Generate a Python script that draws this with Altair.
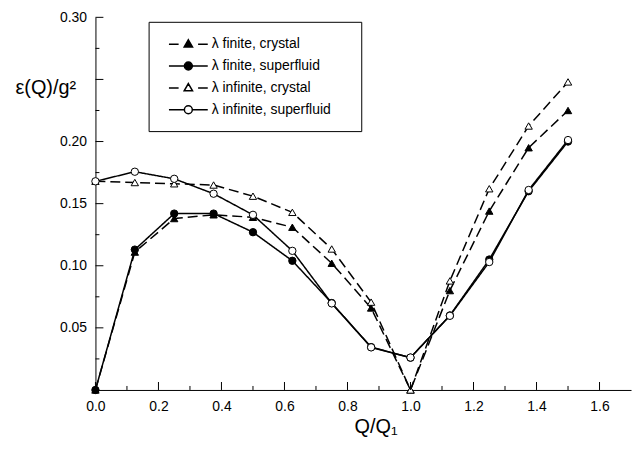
import altair as alt
import pandas as pd

# ---- data ----
Q = [0.0, 0.125, 0.25, 0.375, 0.5, 0.625, 0.75, 0.875, 1.0, 1.125, 1.25, 1.375, 1.5]
finite_crystal = [0.0, 0.111, 0.138, 0.141, 0.139, 0.131, 0.102, 0.066, 0.0, 0.080, 0.144, 0.195, 0.225]
finite_superfluid = [0.0, 0.113, 0.142, 0.142, 0.127, 0.104, 0.070, 0.0345, 0.026, 0.060, 0.105, 0.160, 0.200]
infinite_crystal = [0.168, 0.167, 0.166, 0.165, 0.156, 0.143, 0.1135, 0.0707, 0.0, 0.0878, 0.162, 0.2125, 0.248]
infinite_superfluid = [0.168, 0.1757, 0.170, 0.158, 0.141, 0.112, 0.0697, 0.0343, 0.0261, 0.0597, 0.103, 0.161, 0.2012]

series_names = ["λ finite, crystal", "λ finite, superfluid",
                "λ infinite, crystal", "λ infinite, superfluid"]

x_labels = [0.0, 0.2, 0.4, 0.6, 0.8, 1.0, 1.2, 1.4, 1.6]
x_minor = [0.1, 0.3, 0.5, 0.7, 0.9, 1.1, 1.3, 1.5]
y_labels = [0.05, 0.10, 0.15, 0.20, 0.30]
y_major = [0.05, 0.10, 0.15, 0.20, 0.25, 0.30]
y_minor = [0.025, 0.075, 0.125, 0.175, 0.225, 0.275]

rows = []
for name, vals in zip(series_names, [finite_crystal, finite_superfluid,
                                     infinite_crystal, infinite_superfluid]):
    for q, v in zip(Q, vals):
        rows.append({"Q": q, "eps": v, "series": name})
df = pd.DataFrame(rows)

W, H = 539, 375
FONT = "Liberation Sans"

x_scale = alt.Scale(domain=[0, 1.7], nice=False, zero=False)
y_scale = alt.Scale(domain=[0, 0.30], nice=False, zero=False)

common = dict(ticks=False, tickSize=0, grid=False, labelFlush=False, labelOverlap=False,
              labelFont=FONT, labelFontSize=14, labelColor="black",
              domainColor="black", domainWidth=1,
              titleFont=FONT, titleColor="black", titleFontSize=20, titleFontWeight="normal")

x_axis = alt.Axis(values=x_labels, format=".1f", labelPadding=10,
                  title="Q/Q₁", titleX=282, titleY=43, titleAlign="center",
                  titleBaseline="alphabetic", **common)
y_axis = alt.Axis(values=y_labels, format=".2f", labelPadding=9,
                  title="ε(Q)/g²", titleAngle=0, titleX=-81, titleY=77,
                  titleAlign="left", titleBaseline="alphabetic", **common)

X = alt.X("Q:Q", scale=x_scale, axis=x_axis)
Y = alt.Y("eps:Q", scale=y_scale, axis=y_axis)

dash_scale = alt.Scale(domain=series_names, range=[[10, 5], [1, 0], [10, 5], [1, 0]])
shape_scale = alt.Scale(domain=series_names,
                        range=["triangle-up", "circle", "triangle-up", "circle"])
fill_range = ["black", "black", "white", "white"]

base = alt.Chart(df)

lines = base.mark_line(strokeWidth=1.5, color="black").encode(
    x=X, y=Y,
    strokeDash=alt.StrokeDash("series:N", scale=dash_scale, legend=None),
    detail="series:N",
)

points = base.mark_point(filled=True, opacity=1, stroke="black", strokeWidth=1, size=55).encode(
    x=X, y=Y,
    shape=alt.Shape("series:N", scale=shape_scale, legend=None),
    fill=alt.Fill("series:N", scale=alt.Scale(domain=series_names, range=fill_range), legend=None),
)

# legend symbols: line + marker composite paths
tri = "M0,-0.62L0.6,0.42L-0.6,0.42Z"
circ = "M0.57,0A0.57,0.57 0 1,1 -0.57,0A0.57,0.57 0 1,1 0.57,0Z"
dashed = "M-2.79,0H-1.4M1.4,0H2.79"
solid = "M-2.79,0H-0.57M0.57,0H2.79"
legend_paths = [dashed + tri, solid + circ, dashed + tri, solid + circ]

leg = alt.Legend(orient="none", legendX=85.5, legendY=19, title=None,
                 labelFont=FONT, labelFontSize=14, labelColor="black",
                 labelOffset=15.5, rowPadding=7, padding=0,
                 symbolStrokeWidth=1.5, symbolStrokeColor="black", symbolSize=196)

legend_layer = base.transform_filter("datum.Q < -1").mark_point(
    filled=True, opacity=1, strokeWidth=1.5, size=196).encode(
    x=X, y=Y,
    shape=alt.Shape("series:N", scale=alt.Scale(domain=series_names, range=legend_paths), legend=leg),
    fill=alt.Fill("series:N", scale=alt.Scale(domain=series_names, range=fill_range), legend=leg),
    stroke=alt.Stroke("series:N", scale=alt.Scale(domain=series_names, range=["black"] * 4), legend=leg),
)

frame = alt.Chart(pd.DataFrame({"k": [0]})).mark_rect(filled=False, stroke="black", strokeWidth=1).encode(
    x=alt.value(54), x2=alt.value(268), y=alt.value(5), y2=alt.value(115)
)

def xticks(vals, length):
    return alt.Chart(pd.DataFrame({"Q": vals})).mark_rule(color="black", strokeWidth=1).encode(
        x=X, y=alt.value(H), y2=alt.value(H - length))

def yticks(vals, length):
    return alt.Chart(pd.DataFrame({"eps": vals})).mark_rule(color="black", strokeWidth=1).encode(
        y=Y, x=alt.value(0), x2=alt.value(length))

chart = alt.layer(
    frame, lines, points, legend_layer,
    xticks(x_labels, 8), xticks(x_minor, 4), yticks(y_major, 8), yticks(y_minor, 4),
).resolve_scale(shape="independent", fill="independent", stroke="independent").properties(
    width=W, height=H, background="white",
    padding={"left": 88, "top": 8, "right": 5, "bottom": 54},
    autosize=alt.AutoSizeParams(type="none"),
).configure_view(stroke=None)

chart.save("out.html", embed_options={"renderer": "svg", "actions": False})
